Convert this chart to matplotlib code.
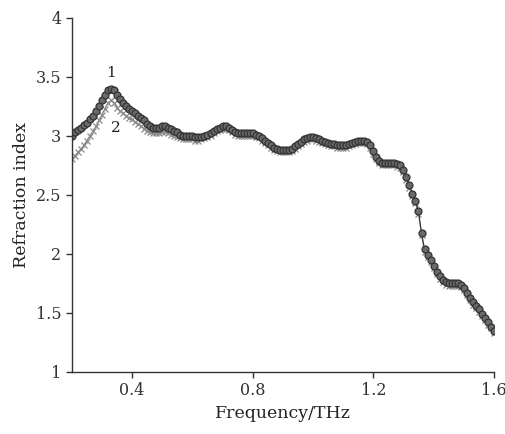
import numpy as np
import matplotlib
matplotlib.use('Agg')
import matplotlib.pyplot as plt

# frequency grid, THz
freq = np.round(np.arange(0.20, 1.605, 0.01), 2)

# curve 1 (circles)
n1 = [3.00, 3.03, 3.05, 3.07, 3.09, 3.11, 3.14, 3.17, 3.21, 3.25,
      3.30, 3.35, 3.39, 3.40, 3.39, 3.35, 3.31, 3.28, 3.25, 3.23,
      3.21, 3.19, 3.17, 3.15, 3.13, 3.10, 3.08, 3.07, 3.07, 3.07,
      3.08, 3.08, 3.07, 3.06, 3.04, 3.03, 3.01, 3.00, 3.00, 3.00,
      3.00, 2.99, 2.99, 2.99, 3.00, 3.01, 3.02, 3.04, 3.06, 3.07,
      3.08, 3.08, 3.07, 3.05, 3.03, 3.02, 3.02, 3.02, 3.02, 3.02,
      3.02, 3.01, 3.00, 2.98, 2.96, 2.94, 2.92, 2.90, 2.89, 2.88,
      2.88, 2.88, 2.88, 2.89, 2.91, 2.93, 2.95, 2.97, 2.98, 2.99,
      2.99, 2.98, 2.97, 2.96, 2.95, 2.94, 2.93, 2.93, 2.92, 2.92,
      2.92, 2.92, 2.93, 2.94, 2.95, 2.96, 2.96, 2.96, 2.95, 2.92,
      2.87, 2.82, 2.79, 2.77, 2.77, 2.77, 2.77, 2.77, 2.76, 2.75,
      2.71, 2.65, 2.58, 2.51, 2.45, 2.36, 2.18, 2.04, 1.99, 1.95,
      1.90, 1.85, 1.81, 1.78, 1.76, 1.75, 1.75, 1.75, 1.75, 1.74,
      1.71, 1.67, 1.63, 1.59, 1.56, 1.53, 1.49, 1.46, 1.42, 1.38,
      1.35]

# curve 2 (crosses)
n2 = [2.80, 2.83, 2.86, 2.89, 2.92, 2.96, 3.00, 3.04, 3.08, 3.13,
      3.18, 3.23, 3.28, 3.30, 3.28, 3.24, 3.21, 3.19, 3.17, 3.15,
      3.14, 3.12, 3.10, 3.08, 3.06, 3.04, 3.03, 3.02, 3.02, 3.02,
      3.03, 3.03, 3.02, 3.01, 3.00, 2.99, 2.98, 2.97, 2.97, 2.97,
      2.97, 2.96, 2.96, 2.97, 2.98, 2.99, 3.00, 3.02, 3.04, 3.05,
      3.06, 3.06, 3.05, 3.03, 3.01, 3.00, 3.00, 3.00, 3.00, 3.00,
      3.00, 2.99, 2.98, 2.96, 2.94, 2.92, 2.90, 2.88, 2.87, 2.86,
      2.86, 2.86, 2.86, 2.87, 2.89, 2.91, 2.93, 2.95, 2.96, 2.97,
      2.97, 2.96, 2.95, 2.94, 2.93, 2.92, 2.91, 2.91, 2.90, 2.90,
      2.90, 2.90, 2.91, 2.92, 2.93, 2.94, 2.94, 2.94, 2.93, 2.90,
      2.85, 2.80, 2.77, 2.75, 2.75, 2.75, 2.75, 2.75, 2.74, 2.73,
      2.69, 2.63, 2.56, 2.49, 2.43, 2.34, 2.16, 2.02, 1.97, 1.93,
      1.88, 1.83, 1.79, 1.76, 1.74, 1.73, 1.73, 1.73, 1.73, 1.72,
      1.69, 1.65, 1.61, 1.57, 1.54, 1.51, 1.47, 1.44, 1.40, 1.37,
      1.33]

plt.rcParams['font.family'] = 'DejaVu Serif'

fig = plt.figure(figsize=(5.06, 4.34), dpi=100)
ax = fig.add_axes([0.142, 0.143, 0.834, 0.816])

ax.plot(freq, n2, color='#8a8a8a', lw=0.8, marker='x', ms=5, mew=0.9)
ax.plot(freq, n1, color='#333333', lw=0.8, marker='o', ms=5,
        mfc='#6a6a6a', mec='#333333', mew=0.9)

ax.text(0.33, 3.53, '1', fontsize=11, ha='center', va='center', color='#222222')
ax.text(0.345, 3.07, '2', fontsize=11, ha='center', va='center', color='#222222')

ax.set_xlim(0.2, 1.6)
ax.set_ylim(1, 4)
ax.set_xticks([0.4, 0.8, 1.2, 1.6])
ax.set_yticks([1, 1.5, 2, 2.5, 3, 3.5, 4])
ax.set_yticklabels(['1', '1.5', '2', '2.5', '3', '3.5', '4'])

for s in ['top', 'right']:
    ax.spines[s].set_visible(False)
for s in ['left', 'bottom']:
    ax.spines[s].set_color('#333333')
    ax.spines[s].set_linewidth(1.0)

ax.tick_params(direction='out', length=4, width=1, colors='#333333',
               labelsize=11.5, labelcolor='#333333')
ax.set_xlabel('Frequency/THz', fontsize=12.5, color='#222222')
ax.set_ylabel('Refraction index', fontsize=12.5, color='#222222')

fig.savefig('out.png', dpi=100)
